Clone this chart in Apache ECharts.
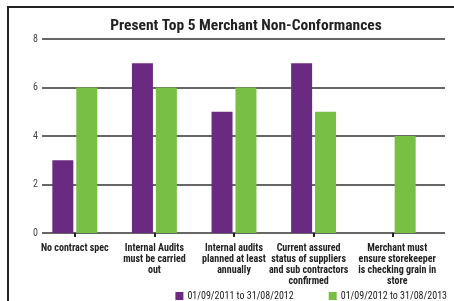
<!DOCTYPE html>
<html style="height: 100%">

<head>
  <meta charset="utf-8">
</head>

<body style="height: 100%; margin: 0; background: #fff">
  <div id="frame" style="position: absolute; left: 7px; top: 6px; right: 0; bottom: 0; border-left: 2px solid #222; border-top: 2px solid #222"></div>
  <div id="container" style="position: absolute; left: 0; top: 0; width: 454px; height: 301px"></div>
  <script type="text/javascript" src="https://cdn.jsdelivr.net/npm/echarts@6/dist/echarts.min.js"></script>
  <script type="text/javascript">
    var categories = [
      'No contract spec',
      'Internal Audits\nmust be carried\nout',
      'Internal audits\nplanned at least\nannually',
      'Current assured\nstatus of suppliers\nand sub contractors\nconfirmed',
      'Merchant must\nensure storekeeper\nis checking grain in\nstore'
    ];
    var period1 = [3, 7, 5, 7, 0];
    var period2 = [6, 6, 6, 5, 4];
    var seriesNames = ['01/09/2011 to 31/08/2012', '01/09/2012 to 31/08/2013'];

    var font = '"Roboto Condensed", sans-serif';

    var dom = document.getElementById("container");
    var myChart = echarts.init(dom);

    // long labels nudged apart a little so they don't collide
    var labelStyle = { fontFamily: font, fontSize: 10, fontWeight: 'bold', lineHeight: 11, color: '#222' };
    var rich = {
      c0: labelStyle, c1: labelStyle, c2: labelStyle,
      c3: Object.assign({ padding: [0, 10, 0, 0] }, labelStyle),
      c4: Object.assign({ padding: [0, 0, 0, 8] }, labelStyle)
    };

    var option = {
      animation: false,
      title: {
        text: 'Present Top 5 Merchant Non-Conformances',
        left: 241,
        textAlign: 'center',
        top: 13,
        textStyle: { fontFamily: font, fontSize: 15.5, fontWeight: 'bold', color: '#222' }
      },
      legend: {
        bottom: 0,
        right: 7,
        padding: 0,
        itemGap: 35,
        itemWidth: 8,
        itemHeight: 8,
        icon: 'rect',
        textStyle: { fontFamily: font, fontSize: 10, color: '#222', padding: [0, 0, 0, -1] },
        data: seriesNames
      },
      grid: [
        { left: 35, right: 21, top: 39, bottom: 68 },
        { left: 42, right: 9, top: 39, bottom: 68 }
      ],
      xAxis: [
        {
          type: 'category',
          gridIndex: 0,
          data: categories,
          axisLine: { show: false },
          axisTick: { show: true, alignWithLabel: true, length: 4, lineStyle: { color: '#222', width: 2 } },
          axisLabel: {
            interval: 0,
            margin: 10,
            formatter: function (value, index) {
              return value.split('\n').map(function (line) {
                return '{c' + index + '|' + line + '}';
              }).join('\n');
            },
            rich: rich
          }
        },
        { type: 'category', gridIndex: 1, show: false, data: categories }
      ],
      yAxis: [
        { type: 'value', gridIndex: 0, min: 0, max: 8, interval: 2, show: false, splitLine: { show: false } },
        {
          type: 'value',
          gridIndex: 1,
          min: 0,
          max: 8,
          interval: 2,
          axisLine: { show: false },
          axisTick: { show: false },
          axisLabel: { margin: 4, fontFamily: font, fontSize: 10, color: '#444' },
          splitLine: { lineStyle: { color: '#333', width: 1.5 } }
        }
      ],
      series: [
        {
          name: seriesNames[0],
          type: 'bar',
          xAxisIndex: 0,
          yAxisIndex: 0,
          barWidth: 21,
          barGap: '14%',
          itemStyle: { color: '#6b2a82' },
          data: period1,
          z: 3
        },
        {
          name: seriesNames[1],
          type: 'bar',
          xAxisIndex: 0,
          yAxisIndex: 0,
          barWidth: 21,
          barGap: '14%',
          itemStyle: { color: '#77c043' },
          data: period2,
          z: 3
        }
      ]
    };

    myChart.setOption(option);
  </script>
</body>

</html>
